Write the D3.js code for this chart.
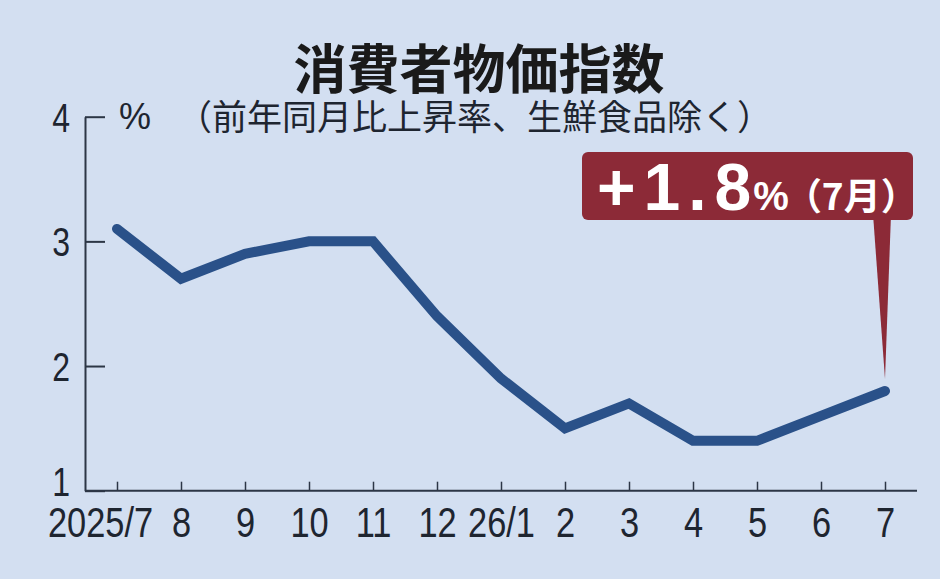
<!DOCTYPE html>
<html>
<head>
    <meta charset="utf-8">
    <title>消費者物価指数</title>
    <script src="https://d3js.org/d3.v7.min.js"></script>
    <style>
        body { margin: 0; background: #d3dff1; }
        .num { font-family: "Liberation Sans", Arial, sans-serif; fill: #1e2530; }
        .jp { font-family: "Noto Sans CJK JP", sans-serif; }
    </style>
</head>
<body>
    <svg width="940" height="579"></svg>
    <script>

        // Chart data
        const months = ["2025/7", "8", "9", "10", "11", "12", "26/1", "2", "3", "4", "5", "6", "7"];
        const values = [3.1, 2.7, 2.9, 3.0, 3.0, 2.4, 1.9, 1.5, 1.7, 1.4, 1.4, 1.6, 1.8];
        const yTicks = [1, 2, 3, 4];

        const svg = d3.select("svg");
        const squeeze = 0.8; // the tick font is a condensed one

        svg.append("rect")
            .attr("width", 940)
            .attr("height", 579)
            .attr("fill", "#d3dff1");

        const x = d3.scalePoint().domain(months).range([117, 885]);
        const y = d3.scaleLinear().domain([1, 4]).range([490.7, 116.7]);
        const axisColor = "#2c3646";

        // Title
        svg.append("text")
            .attr("class", "jp")
            .attr("x", 479)
            .attr("y", 89)
            .attr("text-anchor", "middle")
            .style("font-size", "53px")
            .style("font-weight", "700")
            .attr("fill", "#1a1a1a")
            .text("消費者物価指数");

        // Unit + note
        svg.append("text")
            .attr("class", "num")
            .attr("x", 119)
            .attr("y", 129)
            .style("font-size", "36px")
            .text("%");

        svg.append("text")
            .attr("class", "jp")
            .attr("x", 177)
            .attr("y", 130)
            .style("font-size", "35px")
            .attr("fill", "#1e2530")
            .text("（前年同月比上昇率、生鮮食品除く）");

        // Y axis
        const yAxis = svg.append("g")
            .attr("transform", "translate(85,0)")
            .call(d3.axisLeft(y).tickValues(yTicks).tickSize(-20).tickSizeOuter(0).tickFormat(d3.format("d")));
        yAxis.select(".domain").attr("stroke", axisColor).attr("stroke-width", 2);
        yAxis.selectAll(".tick line").attr("stroke", axisColor).attr("stroke-width", 2);
        yAxis.selectAll(".tick text")
            .attr("class", "num")
            .attr("x", -15 / squeeze)
            .attr("dy", d => d === 1 ? "0.12em" : "0.36em") // lowest label sits a bit higher, clear of the month labels
            .attr("text-anchor", "end")
            .attr("transform", "scale(" + squeeze + ",1)")
            .style("font-size", "40px");

        // X axis
        const xAxis = svg.append("g")
            .attr("transform", "translate(0," + y(1) + ")")
            .call(d3.axisBottom(x).tickSize(-9).tickSizeOuter(0));
        xAxis.select(".domain").remove();
        xAxis.append("line")
            .attr("x1", 85)
            .attr("x2", 917)
            .attr("stroke", axisColor)
            .attr("stroke-width", 2);
        xAxis.selectAll(".tick line").attr("stroke", axisColor).attr("stroke-width", 1.5);
        xAxis.selectAll(".tick text")
            .attr("class", "num")
            .attr("y", 46)
            .attr("dy", null)
            .attr("x", (d, i) => (i === 0 ? -17 : 0) / squeeze)
            .attr("transform", "scale(" + squeeze + ",1)")
            .style("font-size", "43px");

        // The line
        const line = d3.line()
            .x((d, i) => x(months[i]))
            .y(d => y(d));

        svg.append("path")
            .datum(values)
            .attr("fill", "none")
            .attr("stroke", "#2a5189")
            .attr("stroke-width", 10)
            .attr("stroke-linejoin", "miter")
            .attr("stroke-linecap", "round")
            .attr("d", line);

        // Callout for the latest month
        const lastX = x(months[months.length - 1]);
        const lastY = y(values[values.length - 1]);
        const callout = svg.append("g");

        callout.append("path")
            .attr("d", "M" + (lastX - 12) + ",214 L" + (lastX + 6) + ",214 L" + lastX + "," + (lastY - 12) + " Z")
            .attr("fill", "#8c2a37");

        callout.append("rect")
            .attr("x", 582)
            .attr("y", 152)
            .attr("width", 331)
            .attr("height", 68)
            .attr("rx", 6)
            .attr("fill", "#8c2a37");

        const label = callout.append("text")
            .attr("x", 597)
            .attr("y", 210)
            .attr("fill", "#ffffff")
            .style("font-family", "'Liberation Sans', Arial, sans-serif")
            .style("font-weight", "700");
        label.append("tspan")
            .style("font-size", "66px")
            .style("letter-spacing", "8px")
            .text("+" + d3.format(".1f")(values[values.length - 1]));
        label.append("tspan")
            .attr("dx", -6)
            .style("font-size", "40px")
            .text("%");
        label.append("tspan")
            .attr("class", "jp")
            .attr("dx", -4)
            .style("font-size", "37px")
            .text("（7月）");

    </script>
</body>
</html>
